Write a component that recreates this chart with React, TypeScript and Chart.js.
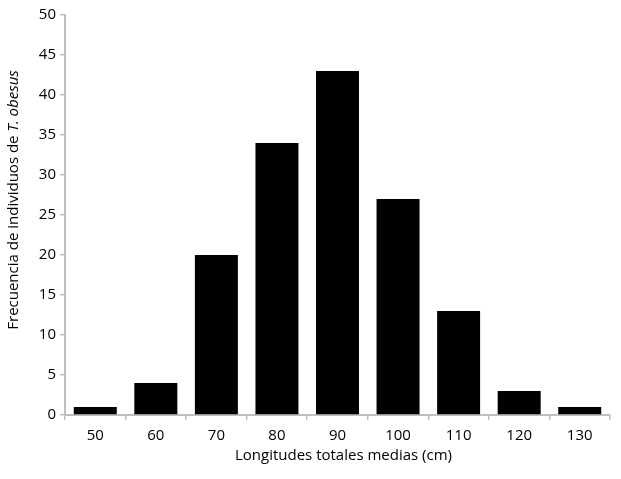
import React, { useEffect, useRef } from "react";
import { Chart, registerables } from "chart.js";

Chart.register(...registerables);

const categories = ["50", "60", "70", "80", "90", "100", "110", "120", "130"];
const frequencies = [1, 4, 20, 34, 43, 27, 13, 3, 1];
const yMin = 0;
const yMax = 50;
const yStep = 5;
const xTitle = "Longitudes totales medias (cm)";
const yTitleParts: { text: string; italic: boolean }[] = [
  { text: "Frecuencia de individuos de ", italic: false },
  { text: "T. obesus", italic: true },
];

const FONT = "'Open Sans', 'Noto Sans', sans-serif";
const AXIS_COLOR = "#bfbfbf";
const FS = 15;

const titlesPlugin = {
  id: "customTitles",
  afterDraw(chart: any) {
    const { ctx, chartArea } = chart;
    ctx.save();
    ctx.fillStyle = "#000";
    ctx.textBaseline = "middle";
    // x title
    ctx.font = `${FS}px ${FONT}`;
    ctx.textAlign = "center";
    ctx.fillText(xTitle, (chartArea.left + chartArea.right) / 2 + 6, 456);
    // y title with italic part
    const fonts = yTitleParts.map((p) => `${p.italic ? "italic " : ""}${FS}px ${FONT}`);
    const widths = yTitleParts.map((p, i) => {
      ctx.font = fonts[i];
      return ctx.measureText(p.text).width;
    });
    const total = widths.reduce((a, b) => a + b, 0);
    ctx.translate(14, 200);
    ctx.rotate(-Math.PI / 2);
    ctx.textAlign = "left";
    let x = -total / 2;
    yTitleParts.forEach((p, i) => {
      ctx.font = fonts[i];
      ctx.fillText(p.text, x, 0);
      x += widths[i];
    });
    ctx.restore();
  },
};

export default function App() {
  const ref = useRef<HTMLCanvasElement | null>(null);
  useEffect(() => {
    if (!ref.current) return;
    const chart = new Chart(ref.current, {
      type: "bar",
      data: {
        labels: categories,
        datasets: [
          {
            data: frequencies,
            backgroundColor: "#000000",
            borderWidth: 0,
            categoryPercentage: 1,
            barPercentage: 0.71,
          },
        ],
      },
      options: {
        animation: false,
        responsive: false,
        maintainAspectRatio: false,
        layout: { padding: { top: 15, right: 11, left: 0, bottom: 0 } },
        plugins: { legend: { display: false }, tooltip: { enabled: false } },
        scales: {
          x: {
            type: "category",
            offset: true,
            grid: {
              display: true,
              offset: true,
              drawOnChartArea: false,
              drawTicks: true,
              tickLength: 5,
              color: AXIS_COLOR,
              lineWidth: 1.5,
            },
            border: { display: true, color: AXIS_COLOR, width: 2 },
            ticks: { color: "#000", font: { family: FONT, size: FS }, padding: 7, maxRotation: 0 },
            afterFit: (s: any) => {
              s.height = 64;
            },
          },
          y: {
            min: yMin,
            max: yMax,
            grid: {
              display: true,
              drawOnChartArea: false,
              drawTicks: true,
              tickLength: 5,
              color: AXIS_COLOR,
              lineWidth: 1.5,
            },
            border: { display: true, color: AXIS_COLOR, width: 2 },
            ticks: { stepSize: yStep, color: "#000", font: { family: FONT, size: FS }, padding: 4 },
            afterFit: (s: any) => {
              s.width = 65;
            },
          },
        },
      },
      plugins: [titlesPlugin],
    });
    return () => chart.destroy();
  }, []);
  return (
    <div style={{ position: "absolute", left: 0, top: 0, width: 621, height: 479, background: "#fff" }}>
      <canvas ref={ref} width={621} height={479} />
    </div>
  );
}
